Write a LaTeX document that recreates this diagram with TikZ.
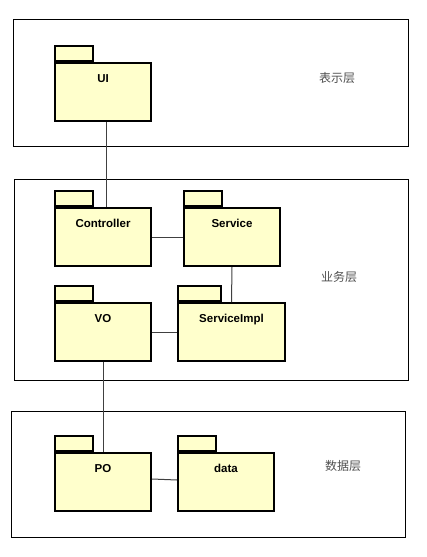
\documentclass[tikz,border=0pt]{standalone}
\usepackage{fontspec}
\setmainfont{Liberation Sans}
\newfontfamily\cjk{Noto Sans CJK SC}
\usetikzlibrary{positioning}
\definecolor{pkgfill}{HTML}{FFFFCC}
\definecolor{lblgrey}{HTML}{505050}
\tikzset{
  every picture/.style={x=1pt, y=-1pt},
  layer/.style={draw=black, line width=1pt},
  pkg/.style={draw=black, fill=pkgfill, line width=2pt, anchor=north west, minimum width=#1,
    inner xsep=0pt, inner ysep=11pt, text height=8pt, text depth=28pt, font=\fontsize{11.5}{13}\selectfont\bfseries},
  pkg/.default=96pt,
  pkgtab/.style={draw=black, fill=pkgfill, line width=2pt, anchor=south west, minimum width=#1,
    minimum height=15pt, inner sep=0pt},
  pkgtab/.default=38pt,
  link/.style={draw=black!75, line width=1pt},
  layername/.style={font=\cjk\fontsize{12}{14}\selectfont, text=lblgrey},
}

\begin{document}
\begin{tikzpicture}
  \useasboundingbox (0,0) rectangle (426,557);
  % three layers
  \draw[layer] (13,19) rectangle (408,146);
  \draw[layer] (14,179) rectangle (408,380);
  \draw[layer] (11,411) rectangle (405,537);
  \node[layername] (ltop) at (337,78) {表示层};
  \node[layername] (lmid) at (339,277) {业务层};
  \node[layername] (lbot) at (343,466) {数据层};
  % packages
  \foreach \n/\x/\y/\w/\t/\s in {ui/54/62/96/38/UI, ctrl/54/207/96/38/Controller, svc/183/207/96/38/Service,
      vo/54/302/96/38/VO, impl/177/302/107/43/ServiceImpl, po/54/452/96/38/PO, data/177/452/96/38/data}
    { \node[pkg=\w pt] (\n) at (\x,\y) {\s};
      \node[pkgtab=\t pt] (\n tab) at (\n.north west) {}; }
  % dependencies
  \draw[link] ([xshift=3pt]ui.south) -- ([xshift=3pt]ctrl.north);
  \draw[link] (ctrl) -- (svc);
  \draw[link] (svc.south) -- (impl.north);
  \draw[link] (vo) -- (impl);
  \draw[link] (vo.south) -- (po.north);
  \draw[link] ([yshift=3pt]po.east) -- ([yshift=2pt]data.west);
\end{tikzpicture}
\end{document}
